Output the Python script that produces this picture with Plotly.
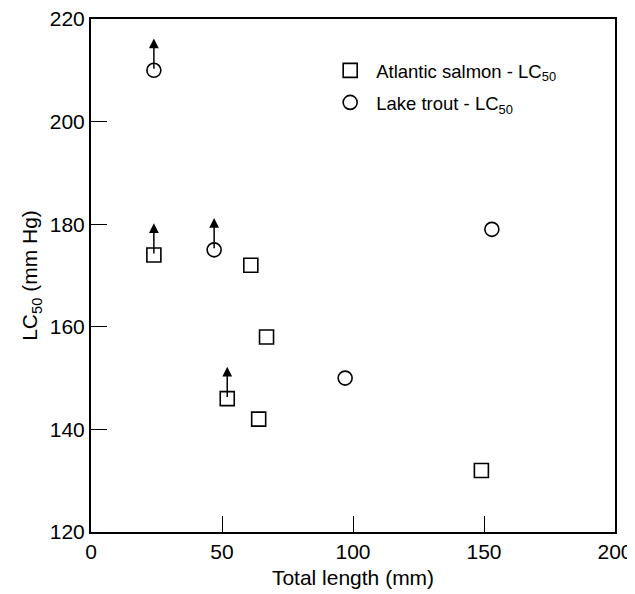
import plotly.graph_objects as go

# Data
salmon_length = [24, 52, 61, 64, 67, 149]
salmon_lc50 = [174, 146, 172, 142, 158, 132]
salmon_censored = [True, True, False, False, False, False]

trout_length = [24, 47, 97, 153]
trout_lc50 = [210, 175, 150, 179]
trout_censored = [True, True, False, False]

x_ticks = [0, 50, 100, 150, 200]
y_ticks = [120, 140, 160, 180, 200, 220]

FONT = "Liberation Sans, Arial, Helvetica, sans-serif"
ARROW_LEN = 6.2  # arrow length in y-data units (style)

fig = go.Figure()
fig.add_trace(go.Scatter(
    x=salmon_length, y=salmon_lc50, mode="markers",
    name="Atlantic salmon - LC<sub>50</sub>", legendgroup="a",
    marker=dict(symbol="square-open", size=14, color="black", line=dict(width=1.6, color="black")),
))
fig.add_trace(go.Scatter(
    x=trout_length, y=trout_lc50, mode="markers",
    name="Lake trout - LC<sub>50</sub>", legendgroup="b",
    marker=dict(symbol="circle-open", size=14, color="black", line=dict(width=1.6, color="black")),
))

annotations = []
for xs, ys, cs in [(salmon_length, salmon_lc50, salmon_censored),
                   (trout_length, trout_lc50, trout_censored)]:
    for xv, yv, c in zip(xs, ys, cs):
        if c:
            annotations.append(dict(
                x=xv, y=yv + ARROW_LEN, ax=xv, ay=yv,
                xref="x", yref="y", axref="x", ayref="y",
                text="", showarrow=True, arrowhead=2, arrowsize=1.3,
                arrowwidth=1.5, arrowcolor="black",
            ))

fig.update_layout(
    width=627, height=586,
    margin=dict(l=83, r=20, t=11, b=62),
    paper_bgcolor="white", plot_bgcolor="white",
    font=dict(family=FONT, size=21, color="black"),
    showlegend=True,
    legend=dict(
        x=0.445, y=0.936, xanchor="left", yanchor="top",
        bgcolor="rgba(0,0,0,0)", font=dict(size=18.5, family=FONT),
        traceorder="grouped", tracegroupgap=5, itemwidth=42,
    ),
    annotations=annotations,
    xaxis=dict(
        range=[0, 200], tickvals=x_ticks, ticktext=[str(v) for v in x_ticks],
        ticks="inside", ticklen=16, tickwidth=1, tickcolor="black",
        showline=True, linewidth=2, linecolor="black", mirror=True,
        showgrid=False, zeroline=False, automargin=False,
        ticklabeloverflow="allow",
        title=dict(text="Total length (mm)", font=dict(size=21), standoff=8),
        tickfont=dict(size=21),
    ),
    yaxis=dict(
        range=[120, 220], tickvals=y_ticks, ticktext=[str(v) for v in y_ticks],
        ticks="inside", ticklen=16, tickwidth=1, tickcolor="black",
        showline=True, linewidth=2, linecolor="black", mirror=True,
        showgrid=False, zeroline=False, automargin=False,
        ticklabeloverflow="allow",
        title=dict(text="LC<sub>50</sub> (mm Hg)", font=dict(size=21), standoff=6),
        tickfont=dict(size=21),
    ),
)

fig.write_html("out.html")
